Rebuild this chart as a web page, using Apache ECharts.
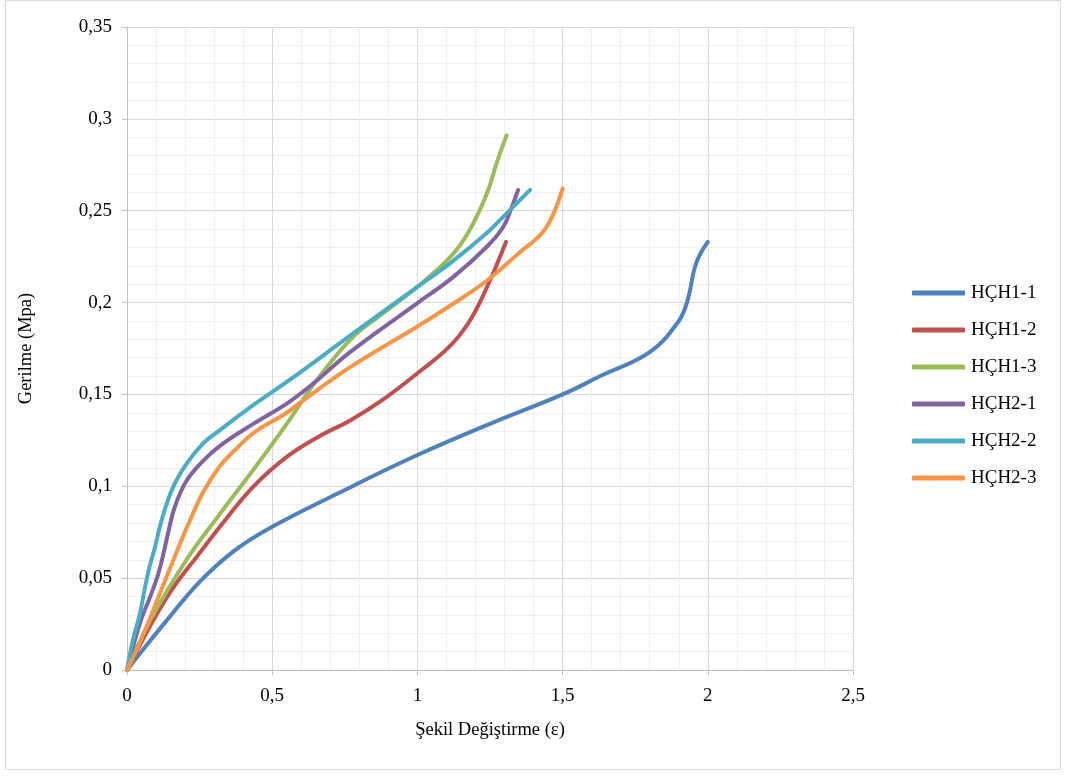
<!DOCTYPE html>
<html><head><meta charset="utf-8">
<script src="https://cdn.jsdelivr.net/npm/echarts@6/dist/echarts.min.js"></script>
<style>html,body{margin:0;padding:0;background:#fff}#c{width:1066px;height:776px}</style>
</head><body><div id="c"></div>
<script>
const seriesNames = ['HÇH1-1','HÇH1-2','HÇH1-3','HÇH2-1','HÇH2-2','HÇH2-3'];
const colors = ['#4F81BD','#C0504D','#9BBB59','#8064A2','#4BACC6','#F79646'];
const hch11 = [[0,0],[0.07,0.014],[0.137,0.027],[0.25,0.048],[0.37,0.065],[0.5,0.078],[0.75,0.098],[1.0,0.117],[1.25,0.134],[1.5,0.150],[1.63,0.160],[1.8,0.173],[1.9,0.19],[1.93,0.201],[1.96,0.2215],[2.0,0.233]];
const hch12 = [[0,0],[0.09,0.027],[0.16,0.045],[0.242,0.062],[0.32,0.078],[0.435,0.0998],[0.55,0.116],[0.66,0.127],[0.77,0.136],[0.88,0.147],[1.0,0.1615],[1.11,0.176],[1.18,0.19],[1.24,0.2086],[1.305,0.233]];
const hch13 = [[0,0],[0.08,0.027],[0.205,0.06],[0.32,0.085],[0.435,0.109],[0.55,0.134],[0.65,0.157],[0.77,0.18],[0.88,0.194],[1.0,0.2086],[1.12,0.226],[1.18,0.2395],[1.24,0.2596],[1.273,0.276],[1.307,0.291]];
const hch21 = [[0,0],[0.025,0.015],[0.05,0.028],[0.08,0.04],[0.107,0.052],[0.125,0.063],[0.145,0.077],[0.165,0.089],[0.205,0.103],[0.263,0.114],[0.32,0.122],[0.435,0.134],[0.55,0.145],[0.642,0.156],[0.768,0.173],[1.0,0.1997],[1.124,0.214],[1.239,0.2304],[1.296,0.2413],[1.325,0.252],[1.347,0.2613]];
const hch22 = [[0,0],[0.02,0.016],[0.045,0.031],[0.062,0.045],[0.079,0.057],[0.095,0.066],[0.12,0.082],[0.159,0.0997],[0.206,0.1125],[0.263,0.1235],[0.32,0.1306],[0.424,0.143],[0.561,0.158],[0.768,0.182],[1.0,0.2086],[1.112,0.2213],[1.24,0.238],[1.308,0.2487],[1.388,0.2613]];
const hch23 = [[0,0],[0.05,0.017],[0.114,0.042],[0.16,0.06],[0.21,0.079],[0.263,0.097],[0.32,0.111],[0.38,0.121],[0.435,0.129],[0.55,0.14],[0.6,0.146],[0.77,0.165],[1.0,0.187],[1.11,0.198],[1.24,0.212],[1.35,0.227],[1.43,0.238],[1.47,0.249],[1.5,0.262]];
const allData = [hch11,hch12,hch13,hch21,hch22,hch23];
const xTicks = [0,0.5,1,1.5,2,2.5];
const yTicks = [0,0.05,0.1,0.15,0.2,0.25,0.3,0.35];

const fmt = v => String(+v.toFixed(4)).replace('.', ',');
const font = 'Liberation Serif';
const chart = echarts.init(document.getElementById('c'));
chart.setOption({
  animation:false,
  backgroundColor:'#fff',
  graphic:[{type:'rect',shape:{x:5.5,y:0.5,width:1055,height:769},style:{fill:'none',stroke:'#d9d9d9',lineWidth:1}}],
  grid:{left:127,right:213,top:27,bottom:106},
  legend:{
    orient:'vertical',left:907,top:277,itemWidth:53,itemHeight:5,itemGap:15,
    icon:'roundRect',
    textStyle:{fontFamily:font,fontSize:19,color:'#000',lineHeight:22,padding:[0,0,0,1]},
    data:seriesNames
  },
  xAxis:{
    type:'value',min:0,max:2.5,interval:0.5,
    name:'Şekil Değiştirme (ε)',nameLocation:'middle',nameGap:51,
    nameTextStyle:{fontFamily:font,fontSize:18.5,color:'#000'},
    axisLine:{show:true,lineStyle:{color:'#bfbfbf'}},
    axisTick:{show:true,length:5,lineStyle:{color:'#bfbfbf'}},
    axisLabel:{fontFamily:font,fontSize:19,color:'#000',margin:17,formatter:fmt},
    splitLine:{show:true,lineStyle:{color:'#d9d9d9',width:1}},
    minorTick:{show:false,splitNumber:5},
    minorSplitLine:{show:true,lineStyle:{color:'#f0f0f0',width:1}}
  },
  yAxis:{
    type:'value',min:0,max:0.35,interval:0.05,
    name:'Gerilme (Mpa)',nameLocation:'middle',nameGap:91,
    nameTextStyle:{fontFamily:font,fontSize:18.5,color:'#000'},
    axisLine:{show:true,lineStyle:{color:'#bfbfbf'}},
    axisTick:{show:true,length:5,lineStyle:{color:'#bfbfbf'}},
    axisLabel:{fontFamily:font,fontSize:19,color:'#000',margin:15,formatter:fmt},
    splitLine:{show:true,lineStyle:{color:'#d9d9d9',width:1}},
    minorTick:{show:false,splitNumber:5},
    minorSplitLine:{show:true,lineStyle:{color:'#f0f0f0',width:1}}
  },
  series: seriesNames.map((n,i)=>({
    name:n,type:'line',data:allData[i],smooth:0.4,showSymbol:false,symbol:'none',
    color:colors[i],
    lineStyle:{color:colors[i],width:4,cap:'round',join:'round'}
  }))
});
</script></body></html>
